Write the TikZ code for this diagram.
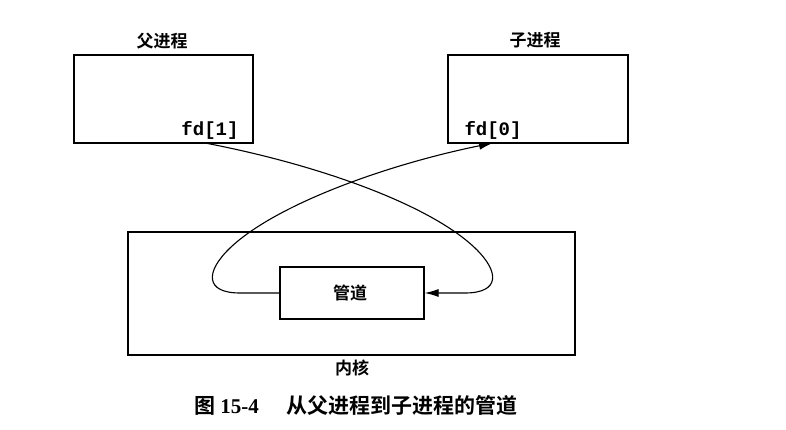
\documentclass[tikz,border=0pt]{standalone}
\usepackage{fontspec}
\setmainfont{Liberation Serif}
\newfontfamily\cjk{Noto Sans CJK SC}[BoldFont={* Bold}]
\newfontfamily\monof{Liberation Mono}
\usetikzlibrary{arrows.meta,calc}
\begin{document}
\begin{tikzpicture}[x=1pt,y=-1pt,
  box/.style={draw,line width=1.2pt,rectangle,inner sep=0pt},
  lbl/.style={font=\cjk\bfseries\fontsize{17}{17}\selectfont},
  fdl/.style={font=\monof\bfseries\fontsize{19}{19}\selectfont,inner sep=0pt},
  conn/.style={line width=1.1pt,-{Latex[length=14pt,width=8pt]}}]
\useasboundingbox (0,0) rectangle (786,430);
\node[box,minimum width=179pt,minimum height=88pt] (parent) at (163.5,99) {};
\node[box,minimum width=180pt,minimum height=88pt] (child) at (538,99) {};
\node[box,minimum width=447pt,minimum height=123pt] (kernel) at (351.5,293.5) {};
\node[box,minimum width=144pt,minimum height=52pt] (pipe) at (352,293) {};
\node[lbl] (plabel) at (162,41) {父进程};
\node[lbl] (clabel) at (535,40) {子进程};
\node[lbl] (klabel) at (352,368) {内核};
\node[lbl] (pipelabel) at (350,293) {管道};
\node[fdl] (fd1) at (210,130) {fd[1]};
\node[fdl] (fd0) at (493,130) {fd[0]};
\node[font=\cjk\bfseries\fontsize{21}{21}\selectfont] (cap) at (356,405) {图 {\rmfamily\bfseries 15-4}\hspace{1.3em}从父进程到子进程的管道};
\coordinate (p1) at (205,143);
\coordinate (c0) at (493,143);
\draw[conn] (p1) .. controls (320,165) and (430,205) .. (475,248)
  .. controls (500,272) and (500,293) .. (465,293) -- (pipe.east);
\draw[conn] (pipe.west) -- (240,293) .. controls (205,293) and (205,272) .. (230,248)
  .. controls (275,205) and (385,165) .. (c0);
\end{tikzpicture}
\end{document}
